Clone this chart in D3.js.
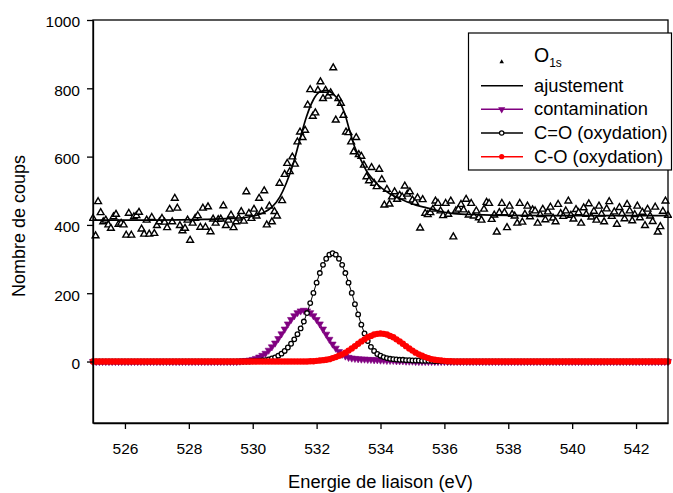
<!DOCTYPE html>
<html><head><meta charset="utf-8">
<script src="https://cdn.jsdelivr.net/npm/d3@7"></script>
<style>
body{margin:0;background:#fff}
svg{display:block}
text{font-family:"Liberation Sans", Arial, sans-serif;fill:#000}
</style>
</head><body>
<svg id="chart" width="673" height="493"></svg>
<script>
// ---- data ----
const xTicks = [526, 528, 530, 532, 534, 536, 538, 540, 542];
const yTicks = [0, 200, 400, 600, 800, 1000];
const xDomain = [525, 543];
const yDomain = [-180, 1000];
const legendLabels = ["O", "ajustement", "contamination", "C=O (oxydation)", "C-O (oxydation)"];
const legendSub = "1s";
const xTitle = "Energie de liaison (eV)";
const yTitle = "Nombre de coups";

// measured O1s spectrum: first energy and step (eV), then counts
const o1sStart = 525, o1sStep = 0.08;
const o1sCounts = [
 419,368,468,436,409,414,400,390,424,431,
 402,405,400,370,434,370,424,427,437,388,
 373,414,373,422,375,398,409,419,408,392,
 446,409,478,449,398,383,390,414,355,405,
 419,427,393,449,393,453,380,417,405,416,
 417,456,398,414,429,392,409,420,
 439,411,497,434,419,446,426,478,439,500,
 400,455,409,439,426,522,471,548,580,556,
 599,578,
 643,672,656,677,751,796,718,728,794,819,
 770,794,777,787,860,707,770,756,721,672,
 670,643,614,656,606,601,575,541,529,568,
 522,512,563,533,458,504,461,482,497,475,
 487,482,514,490,497,473,466,479,391,474,
 434,430,436,446,470,463,441,427,463,431,
 470,365,441,446,460,444,475,429,463,426,
 441,421,414,446,466,463,416,429,379,436,
 463,436,392,455,431,426,405,463,408,431,
 455,424,444,441,405,
 430,446,415,438,452,420,409,460,433,425,
 441,470,428,417,445,436,405,450,431,462,
 423,440,414,455,432,409,447,468,425,438,
 402,451,433,418,460,441,412,430,455,421,
 437,398,446,426,410,452,379,395,440,470,
 428
];

// fit ("ajustement")
const fitEnergy = [525,527,528.5,529.3,529.9,530.3,530.6,530.85,531.05,531.27,531.47,531.68,531.89,532.09,532.3,532.5,532.72,532.88,533.03,533.19,533.34,533.55,533.87,534.28,534.7,535.11,535.45,535.85,536.3,537,538,540,543];
const fitCounts = [414,414,416,419,424,434,452,482,522,580,648,716,765,789,794,785,760,726,677,629,599,560,522,492,473,458,450,440,433,430,428,427,427];

// components on grid: first energy and step (eV)
const compStart = 525, compStep = 0.1;
const contamination = [
 0,0,0,0,0,0,0,0,0,0, 0,0,0,0,0,0,0,0,0,0,
 0,0,0,0,0,0,0,0,0,0, 0,0,0,0,0,0,0,0,0,0,
 0,0,0,0,0,0,1,2,3,4, 6,9,13,18,24,33,43,54,67,81,
 95,110,123,134,143,148,150,148,143,134, 123,110,95,80,65,51,39,29,21,16,
 12,10,9,8,7,7,6,6,5,5, 4,4,3,3,3,2,2,2,1,1,
 1,0,0,0,0,0,0,0,0,0, 0,0,0,0,0,0,0,0,0,0,
 0,0,0,0,0,0,0,0,0,0, 0,0,0,0,0,0,0,0,0,0,
 0,0,0,0,0,0,0,0,0,0, 0,0,0,0,0,0,0,0,0,0,
 0,0,0,0,0,0,0,0,0,0, 0,0,0,0,0,0,0,0,0,0,
 0
];
const carbonyl = [
 0,0,0,0,0,0,0,0,0,0, 0,0,0,0,0,0,0,0,0,0,
 0,0,0,0,0,0,0,0,0,0, 0,0,0,0,0,0,0,0,0,0,
 0,0,0,0,0,0,0,0,0,0, 1,1,2,3,4,6,9,12,17,23,
 31,41,52,65,80,97,117,142,171,201, 231,259,283,301,313,317,313,301,283,259,
 231,201,168,138,108,82,60,43,31,22, 17,13,10,8,7,6,5,5,4,4,
 3,3,3,2,2,2,2,1,1,1, 1,0,0,0,0,0,0,0,0,0,
 0,0,0,0,0,0,0,0,0,0, 0,0,0,0,0,0,0,0,0,0,
 0,0,0,0,0,0,0,0,0,0, 0,0,0,0,0,0,0,0,0,0,
 0,0,0,0,0,0,0,0,0,0, 0,0,0,0,0,0,0,0,0,0,
 0
];
const etherCO = [
 0,0,0,0,0,0,0,0,0,0, 0,0,0,0,0,0,0,0,0,0,
 0,0,0,0,0,0,0,0,0,0, 0,0,0,0,0,0,0,0,0,0,
 0,0,0,0,0,0,0,0,0,0, 0,0,0,0,0,0,0,0,0,0,
 0,0,0,0,0,0,0,0,1,1, 2,3,4,5,7,10,13,17,21,26,
 32,38,45,52,59,65,71,75,79,81, 82,81,79,75,71,65,59,52,45,38,
 32,26,21,17,13,10,7,5,4,3, 2,1,1,0,0,0,0,0,0,0,
 0,0,0,0,0,0,0,0,0,0, 0,0,0,0,0,0,0,0,0,0,
 0,0,0,0,0,0,0,0,0,0, 0,0,0,0,0,0,0,0,0,0,
 0,0,0,0,0,0,0,0,0,0, 0,0,0,0,0,0,0,0,0,0,
 0
];

// ---- drawing ----
const svg = d3.select("#chart");
svg.append("rect").attr("width", 673).attr("height", 493).attr("fill", "#fff");
const L = 93, R = 668, T = 20, B = 423;
const x = d3.scaleLinear().domain(xDomain).range([L, R]);
const y = d3.scaleLinear().domain(yDomain).range([B, T]);

const o1s = o1sCounts.map((v, i) => ({e: o1sStart + i * o1sStep, v}));
const fit = fitEnergy.map((e, i) => ({e, v: fitCounts[i]}));
const toPts = arr => arr.map((v, i) => ({e: compStart + i * compStep, v}));
const purple = "#800080", red = "#ff0000";

svg.append("clipPath").attr("id", "clip").append("rect")
  .attr("x", L - 4).attr("y", T).attr("width", R - L + 8).attr("height", B - T);
const plot = svg.append("g").attr("clip-path", "url(#clip)");

// O1s data
const triUp = d3.symbol().type(d3.symbolTriangle).size(20)();
plot.append("g").selectAll("path").data(o1s).join("path")
  .attr("d", triUp)
  .attr("transform", d => `translate(${x(d.e)},${y(d.v)})`)
  .attr("fill", "#fff").attr("stroke", "#000").attr("stroke-width", 1.4);

// fit line
const line = d3.line().x(d => x(d.e)).y(d => y(d.v));
plot.append("path").datum(fit)
  .attr("d", line.curve(d3.curveMonotoneX))
  .attr("fill", "none").attr("stroke", "#000").attr("stroke-width", 1.7);

const lineLin = d3.line().x(d => x(d.e)).y(d => y(d.v));
// contamination
const cPts = toPts(contamination);
plot.append("path").datum(cPts).attr("d", lineLin)
  .attr("fill", "none").attr("stroke", purple).attr("stroke-width", 1);
const triDown = d3.symbol().type(d3.symbolTriangle).size(22)();
plot.append("g").selectAll("path").data(cPts).join("path")
  .attr("d", triDown)
  .attr("transform", d => `translate(${x(d.e)},${y(d.v)}) rotate(180)`)
  .attr("fill", purple).attr("stroke", purple).attr("stroke-width", 0.6);

// C=O
const oPts = toPts(carbonyl);
plot.append("path").datum(oPts).attr("d", lineLin)
  .attr("fill", "none").attr("stroke", "#000").attr("stroke-width", 1);
plot.append("g").selectAll("circle").data(oPts).join("circle")
  .attr("cx", d => x(d.e)).attr("cy", d => y(d.v)).attr("r", 2.3)
  .attr("fill", "#fff").attr("stroke", "#000").attr("stroke-width", 1.3);

// C-O
const rPts = toPts(etherCO);
plot.append("path").datum(rPts).attr("d", lineLin)
  .attr("fill", "none").attr("stroke", red).attr("stroke-width", 1);
plot.append("g").selectAll("circle").data(rPts).join("circle")
  .attr("cx", d => x(d.e)).attr("cy", d => y(d.v)).attr("r", 3.2)
  .attr("fill", red);

// frame
svg.append("rect").attr("x", L).attr("y", T).attr("width", R - L).attr("height", B - T)
  .attr("fill", "none").attr("stroke", "#000").attr("stroke-width", 1.3);

// axes
const fsTick = 15.5;
const gx = svg.append("g").attr("transform", `translate(0,${B})`)
  .call(d3.axisBottom(x).tickValues(xTicks).tickSize(6).tickSizeOuter(0).tickPadding(14).tickFormat(d3.format("d")));
const gy = svg.append("g").attr("transform", `translate(${L},0)`)
  .call(d3.axisLeft(y).tickValues(yTicks).tickSize(6).tickSizeOuter(0).tickPadding(7).tickFormat(d3.format("d")));
[gx, gy].forEach(g => {
  g.select(".domain").attr("stroke", "#000").attr("stroke-width", 1.3);
  g.selectAll(".tick line").attr("stroke", "#000").attr("stroke-width", 1.3);
  g.selectAll(".tick text").attr("font-size", fsTick).attr("font-family", "Liberation Sans, Arial, sans-serif").attr("fill", "#000");
});
gy.selectAll(".tick text").attr("dy", "0.45em");

// titles
svg.append("text").attr("x", (L + R) / 2).attr("y", 488).attr("text-anchor", "middle")
  .attr("font-size", 18.3).text(xTitle);
svg.append("text").attr("transform", `translate(25,226) rotate(-90)`).attr("text-anchor", "middle")
  .attr("font-size", 18).text(yTitle);

// legend
const lg = svg.append("g");
lg.append("rect").attr("x", 468.5).attr("y", 33).attr("width", 203).attr("height", 137)
  .attr("fill", "#fff").attr("stroke", "#000").attr("stroke-width", 1.2);
const mx = 501.7, lx1 = 481, lx2 = 523, tx = 534;
const rows = [62, 85.7, 109.3, 133, 156.7];
// O1s
lg.append("path").attr("d", d3.symbol().type(d3.symbolTriangle).size(9)())
  .attr("transform", `translate(${mx},${rows[0]})`).attr("fill", "#000");
const t0 = lg.append("text").attr("x", tx).attr("y", rows[0]).attr("font-size", 19.5);
t0.append("tspan").text(legendLabels[0]);
t0.append("tspan").attr("font-size", 12).attr("dy", 5).text(legendSub);
// ajustement
lg.append("line").attr("x1", lx1).attr("x2", lx2).attr("y1", rows[1]).attr("y2", rows[1])
  .attr("stroke", "#000").attr("stroke-width", 1.4);
// contamination
lg.append("line").attr("x1", lx1).attr("x2", lx2).attr("y1", rows[2]).attr("y2", rows[2])
  .attr("stroke", purple).attr("stroke-width", 1.4);
lg.append("path").attr("d", triDown).attr("transform", `translate(${mx},${rows[2]}) rotate(180)`)
  .attr("fill", purple);
// C=O
lg.append("line").attr("x1", lx1).attr("x2", lx2).attr("y1", rows[3]).attr("y2", rows[3])
  .attr("stroke", "#000").attr("stroke-width", 1.4);
lg.append("circle").attr("cx", mx).attr("cy", rows[3]).attr("r", 2.2)
  .attr("fill", "#fff").attr("stroke", "#000").attr("stroke-width", 1.2);
// C-O
lg.append("line").attr("x1", lx1).attr("x2", lx2).attr("y1", rows[4]).attr("y2", rows[4])
  .attr("stroke", red).attr("stroke-width", 1.4);
lg.append("circle").attr("cx", mx).attr("cy", rows[4]).attr("r", 2.6).attr("fill", red);
for (let i = 1; i < 5; i++) {
  lg.append("text").attr("x", tx).attr("y", rows[i] + 6).attr("font-size", 18.3).text(legendLabels[i]);
}
</script>
</body></html>
